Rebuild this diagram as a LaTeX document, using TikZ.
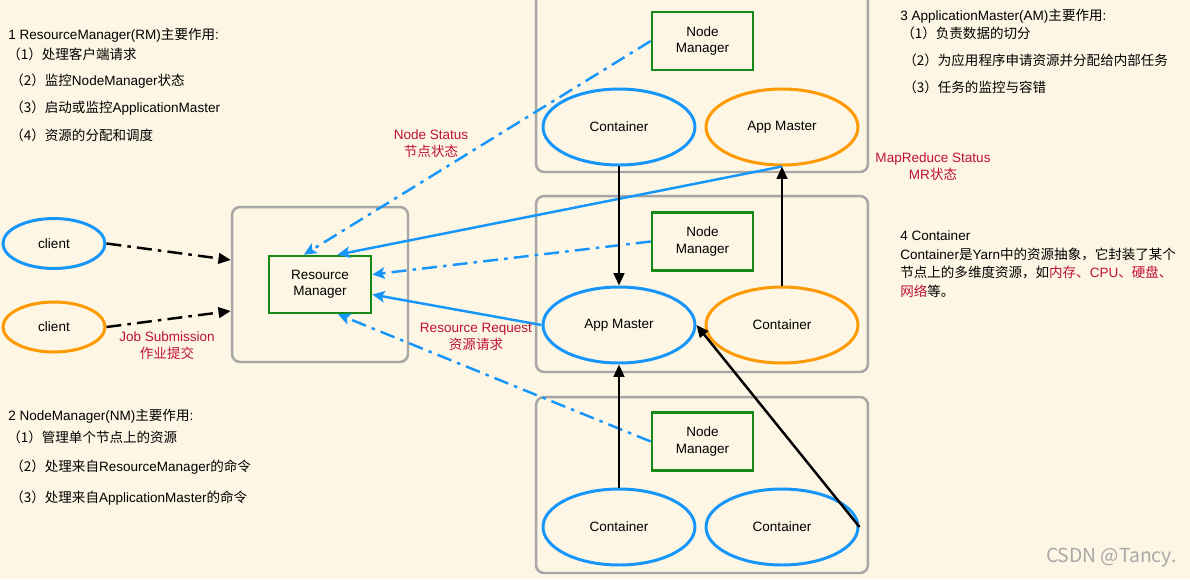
\documentclass[tikz,border=0pt]{standalone}
\usepackage{fontspec}
\setmainfont{Liberation Sans}
\newfontfamily\cjk{Noto Sans CJK SC}
\usetikzlibrary{shapes.geometric,arrows.meta}
\definecolor{bg}{RGB}{253,246,228}
\definecolor{yblue}{RGB}{22,150,250}
\definecolor{yorange}{RGB}{255,153,0}
\definecolor{ygreen}{RGB}{22,138,22}
\definecolor{yred}{RGB}{192,18,48}
\definecolor{ygray}{RGB}{166,166,166}
\definecolor{wmgray}{RGB}{168,168,168}
\begin{document}
\begin{tikzpicture}[x=0.02cm,y=-0.02cm,
  txt/.style={font=\fontsize{7.7}{9.3}\selectfont, inner sep=0pt},
  lbl/.style={txt, text=yred, align=center},
  graybox/.style={draw=ygray, line width=1.4pt, rounded corners=0.16cm, inner sep=0pt},
  greenbox/.style={txt, draw=ygreen, line width=1.5pt, minimum width=2.02cm, minimum height=1.16cm, align=center},
  ell/.style={txt, ellipse, line width=1.7pt, minimum width=3.04cm, minimum height=1.52cm},
  blueell/.style={ell, draw=yblue},
  orangeell/.style={ell, draw=yorange},
  dashdot/.style={dash pattern=on 8.5pt off 3.5pt on 2pt off 3.5pt},
  blk/.style={draw=black, line width=1.4pt, -{Triangle[length=7pt,width=6pt]}},
  bl/.style={draw=yblue, line width=1.4pt, -{Stealth[length=7pt,width=6.5pt,inset=1.5pt]}}
]
\useasboundingbox (0,0) rectangle (1190,579);
\fill[bg] (0,0) rectangle (1190,579);
\clip (0,0) rectangle (1190,579);

% gray boxes
\node[graybox, minimum width=3.52cm, minimum height=3.1cm] (rmbox) at (320,284.5) {};
\node[graybox, minimum width=6.64cm, minimum height=3.64cm] (topbox) at (702,81) {};
\node[graybox, minimum width=6.64cm, minimum height=3.52cm] (midbox) at (702,284) {};
\node[graybox, minimum width=6.64cm, minimum height=3.52cm] (botbox) at (702,485) {};

% main nodes
\node[greenbox, minimum width=2.04cm, minimum height=1.14cm] (rm) at (320,284.5) {Resource\\Manager};
\node[greenbox] (nm1) at (702.5,41) {Node\\Manager};
\node[greenbox] (nm2) at (702.5,241.5) {Node\\Manager};
\node[greenbox] (nm3) at (702.5,441.5) {Node\\Manager};

\node[blueell] (c1) at (619,127) {Container};
\node[orangeell] (am1) at (782,127) {App Master};
\node[blueell] (am2) at (619,325) {App Master};
\node[orangeell] (c2) at (782,325) {Container};
\node[blueell] (c3) at (619,527) {Container};
\node[blueell] (c4) at (782,527) {Container};

\node[ell, draw=yblue, minimum width=2.04cm, minimum height=1.0cm] (cl1) at (54,243.5) {client};
\node[ell, draw=yorange, minimum width=2.04cm, minimum height=1.0cm] (cl2) at (54,327) {client};

% connectors
\draw[blk, dashdot] (cl1.east) -- ([yshift=0.49cm]rmbox.west);
\draw[blk, dashdot] (cl2.east) -- ([yshift=-0.53cm]rmbox.west);

\draw[bl, dashdot] (nm1.west) -- ([xshift=-0.32cm]rm.north);
\draw[bl] (am1.south) -- ([xshift=0.35cm]rm.north);
\draw[bl, dashdot] (nm2.west) -- ([yshift=0.2cm]rm.east);
\draw[bl] (am2.west) -- ([yshift=-0.2cm]rm.east);
\draw[bl, dashdot] (nm3.west) -- ([xshift=0.36cm]rm.south);

\draw[blk] (c1.south) -- (am2.north);
\draw[blk] (c2.north) -- (am1.south);
\draw[blk] (c3.north) -- (am2.south);
\draw[blk] (c4.east) -- (am2.east);

% labels
\node[lbl] (ljob) at (167,345.5) {Job Submission\\{\cjk 作业提交}};
\node[lbl] (lns) at (431,143.5) {Node Status\\{\cjk 节点状态}};
\node[lbl] (lrr) at (476,337) {Resource Request\\{\cjk 资源请求}};
\node[lbl] (lmr) at (933,166.5) {MapReduce Status\\MR{\cjk 状态}};

% text block 1
\node[txt, anchor=west] (a0) at (8,35) {1 ResourceManager(RM){\cjk 主要作用}:};
\node[txt, anchor=west] (a1) at (7,54) {{\cjk （1）处理客户端请求}};
\node[txt, anchor=west] (a2) at (10,81) {{\cjk （2）监控}NodeManager{\cjk 状态}};
\node[txt, anchor=west] (a3) at (10,108) {{\cjk （3）启动或监控}ApplicationMaster};
\node[txt, anchor=west] (a4) at (10,135) {{\cjk （4）资源的分配和调度}};

% text block 2
\node[txt, anchor=west] (b0) at (8,416) {2 NodeManager(NM){\cjk 主要作用}:};
\node[txt, anchor=west] (b1) at (7,437) {{\cjk （1）管理单个节点上的资源}};
\node[txt, anchor=west] (b2) at (10,467) {{\cjk （2）处理来自}ResourceManager{\cjk 的命令}};
\node[txt, anchor=west] (b3) at (10,498) {{\cjk （3）处理来自}ApplicationMaster{\cjk 的命令}};

% text block 3
\node[txt, anchor=west] (d0) at (900,16) {3 ApplicationMaster(AM){\cjk 主要作用}:};
\node[txt, anchor=west] (d1) at (901,33) {{\cjk （1）负责数据的切分}};
\node[txt, anchor=west] (d2) at (903,60) {{\cjk （2）为应用程序申请资源并分配给内部任务}};
\node[txt, anchor=west] (d3) at (903,87) {{\cjk （3）任务的监控与容错}};

% text block 4
\node[txt, anchor=west] (e0) at (900,236) {4 Container};
\node[txt, anchor=west] (e1) at (900,254) {Container{\cjk 是}Yarn{\cjk 中的资源抽象，它封装了某个}};
\node[txt, anchor=west] (e2) at (900,272) {{\cjk 节点上的多维度资源，如\textcolor{yred}{内存、}}\textcolor{yred}{CPU}{\cjk\textcolor{yred}{、硬盘、}}};
\node[txt, anchor=west] (e3) at (900,291) {{\cjk\textcolor{yred}{网络}等。}};

% watermark
\node[inner sep=0pt, anchor=east, text=wmgray, font=\cjk\fontsize{11}{13}\selectfont] (wm) at (1177,558) {CSDN @Tancy.};
\end{tikzpicture}
\end{document}
